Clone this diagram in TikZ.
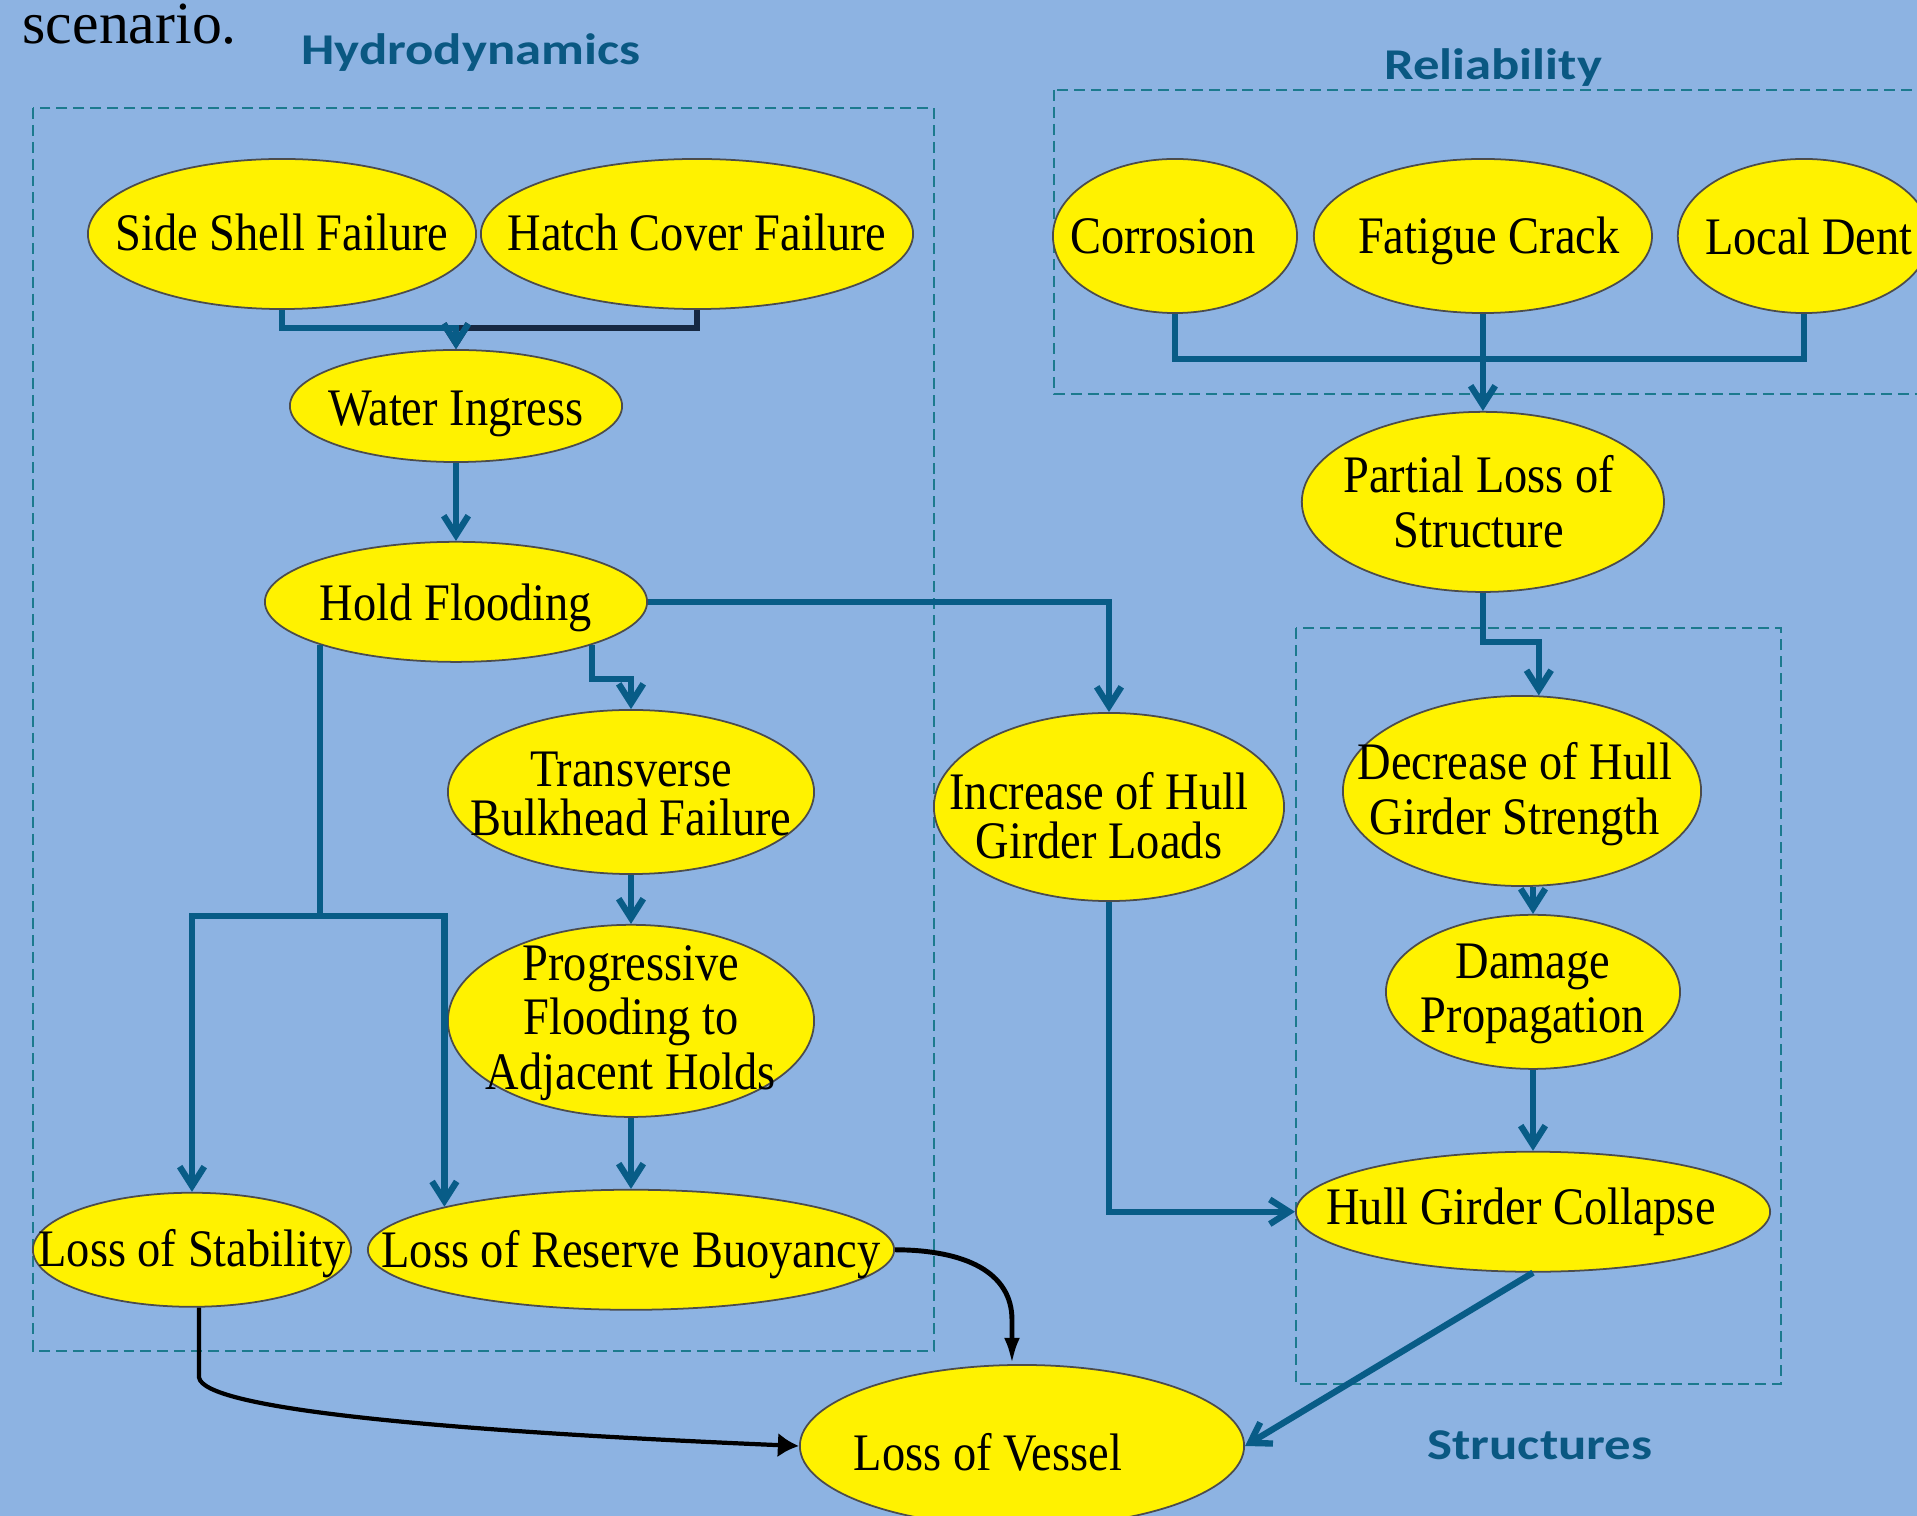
\documentclass[tikz,border=0pt]{standalone}
\usepackage{fontspec}
\setmainfont{Liberation Serif}
\newfontfamily\evfamily{Liberation Serif}[FakeStretch=0.88]
\newfontfamily\zonefamily{Carlito}[FakeStretch=1.2]
\usetikzlibrary{shapes.geometric, arrows.meta, positioning, calc}

\definecolor{bgblue}{RGB}{141,179,226}
\definecolor{flowteal}{RGB}{8,92,135}
\definecolor{flownavy}{RGB}{22,40,66}
\definecolor{zoneteal}{RGB}{28,122,142}
\definecolor{zonetext}{RGB}{10,88,130}

\begin{document}
\begin{tikzpicture}[
    x=0.01cm, y=-0.01cm,
    event/.style={ellipse, draw=black!70, line width=0.5pt, fill=yellow, inner sep=0pt},
    evtext/.style={font=\evfamily\fontsize{15}{15.5}\selectfont, align=center, inner sep=0pt},
    zone/.style={draw=zoneteal, line width=0.75pt, dash pattern=on 3.1pt off 1.7pt},
    zonelabel/.style={font=\zonefamily\bfseries\fontsize{12.5}{14}\selectfont, text=zonetext},
    flow/.style={draw=flowteal, line width=1.8pt, -{Straight Barb[length=5.5pt,width=7pt]}},
    flowdark/.style={flow, draw=flownavy},
    fate/.style={draw=black, line width=1.2pt, -{Latex[length=6pt,width=7pt]}}
]
    % page and zones
    \useasboundingbox (0,0) rectangle (1917,1516);
    \clip (0,0) rectangle (1917,1516);
    \fill[bgblue] (0,0) rectangle (1917,1516);

    \draw[zone] (33,108) rectangle (934,1351);
    \draw[zone] (1054,90) rectangle (1930,394);
    \draw[zone] (1296,628) rectangle (1781,1384);
    \node[zonelabel] (hydrolbl) at (471,53) {Hydrodynamics};
    \node[zonelabel] (rellbl) at (1493,68) {Reliability};
    \node[zonelabel] (strlbl) at (1540,1445) {Structures};
    \node[font=\fontsize{17}{20}\selectfont, anchor=base west, inner sep=0pt] (caption) at (22,44) {scenario.};

    % hydrodynamics
    \node[event, minimum width=3.88cm, minimum height=1.5cm,
          label={[evtext, yshift=0.02cm]center:Side Shell Failure}] (side) at (282,234) {};
    \node[event, minimum width=4.32cm, minimum height=1.5cm, right=0.03cm of side,
          label={[evtext, yshift=0.02cm]center:Hatch Cover Failure}] (hatch) {};
    \node[event, minimum width=3.32cm, minimum height=1.12cm,
          label={[evtext, yshift=-0.08cm]center:Water Ingress}] (water) at (456,406) {};
    \node[event, minimum width=3.82cm, minimum height=1.2cm, below=0.78cm of water,
          label={[evtext, yshift=-0.06cm]center:Hold Flooding}] (hold) {};
    \node[event, minimum width=3.66cm, minimum height=1.64cm,
          label={[evtext, font=\evfamily\fontsize{15}{14}\selectfont, yshift=-0.02cm]center:Transverse\\Bulkhead Failure}] (bulk) at (631,792) {};
    \node[event, minimum width=3.66cm, minimum height=1.92cm, below=0.49cm of bulk,
          label={[evtext, yshift=-0.02cm]center:Progressive\\Flooding to\\Adjacent Holds}] (prog) {};
    \node[event, minimum width=5.26cm, minimum height=1.2cm, below=0.71cm of prog,
          label={[evtext, yshift=-0.05cm]center:Loss of Reserve Buoyancy}] (buoy) {};
    \node[event, minimum width=3.18cm, minimum height=1.14cm, left=0.15cm of buoy,
          label={[evtext, yshift=-0.04cm]center:Loss of Stability}] (stab) {};
    \node[event, minimum width=4.44cm, minimum height=1.62cm,
          label={[evtext, xshift=-0.34cm, yshift=-0.06cm]center:Loss of Vessel}] (vessel) at (1022,1446) {};
    \node[event, minimum width=3.5cm, minimum height=1.88cm,
          label={[evtext, font=\evfamily\fontsize{15}{14}\selectfont, xshift=-0.1cm, yshift=-0.09cm]center:Increase of Hull\\Girder Loads}] (incr) at (1109,807) {};

    % reliability
    \node[event, minimum width=2.44cm, minimum height=1.54cm,
          label={[evtext, xshift=-0.12cm]center:Corrosion}] (corr) at (1175,236) {};
    \node[event, minimum width=3.38cm, minimum height=1.54cm, right=0.15cm of corr,
          label={[evtext, xshift=0.06cm, yshift=-0.05cm]center:Fatigue Crack}] (fat) {};
    \node[event, minimum width=2.52cm, minimum height=1.54cm, right=0.24cm of fat,
          label={[evtext, xshift=0.05cm]center:Local Dent}] (dent) {};
    \node[event, minimum width=3.62cm, minimum height=1.8cm, below=0.97cm of fat,
          label={[evtext, xshift=-0.04cm]center:Partial Loss of\\Structure}] (partial) {};

    % structures
    \node[event, minimum width=3.58cm, minimum height=1.9cm,
          label={[evtext, xshift=-0.07cm, yshift=-0.03cm]center:Decrease of Hull\\Girder Strength}] (decr) at (1522,791) {};
    \node[event, minimum width=2.94cm, minimum height=1.54cm, below=0.27cm of decr, xshift=0.11cm,
          label={[evtext, yshift=-0.02cm]center:Damage\\Propagation}] (damage) {};
    \node[event, minimum width=4.74cm, minimum height=1.2cm, below=0.81cm of damage,
          label={[evtext, xshift=-0.12cm]center:Hull Girder Collapse}] (coll) {};

    % connectors
    \coordinate (ingress) at (456,328);
    \draw[flowdark] (hatch.south) |- (ingress) -- (water.north);
    \draw[flow] (side.south) |- (ingress) -- (water.north);
    \draw[flow] (water) -- (hold);
    \draw[flow] (hold.south east) -- ++(0,34) -| (bulk.north);
    \draw[flow] (hold.south west) -- ++(0,271) coordinate (split) -| (stab.north);
    \draw[flow] (split) -| (buoy.167);
    \draw[flow] (bulk) -- (prog);
    \draw[flow] (prog) -- (buoy);
    \draw[flow] (hold.east) -| (incr.north);
    \draw[flow] (incr.south) |- (coll.west);

    \coordinate (merge) at (1481,359);
    \draw[flow, -] (corr.south) |- (merge);
    \draw[flow, -] (dent.south) |- (merge);
    \draw[flow] (fat.south) -- (partial.north);
    \draw[flow] (partial.south) -- ++(0,49) -| (decr.80);
    \draw[flow] (damage.north |- decr.south) -- (damage.north);
    \draw[flow] (damage) -- (coll);
    \draw[flow] (coll.south) -- (vessel.east);

    \draw[fate, line width=1.4pt, -{Latex[length=7.5pt,width=4.5pt]}] (buoy.east) .. controls (965,1250) and (1012,1272) .. (1012,1320) -- (vessel.97);
    \draw[fate] (stab.-83) -- ++(0,70) .. controls +(5,30) and (420,1430) .. (vessel.west);

\end{tikzpicture}
\end{document}
